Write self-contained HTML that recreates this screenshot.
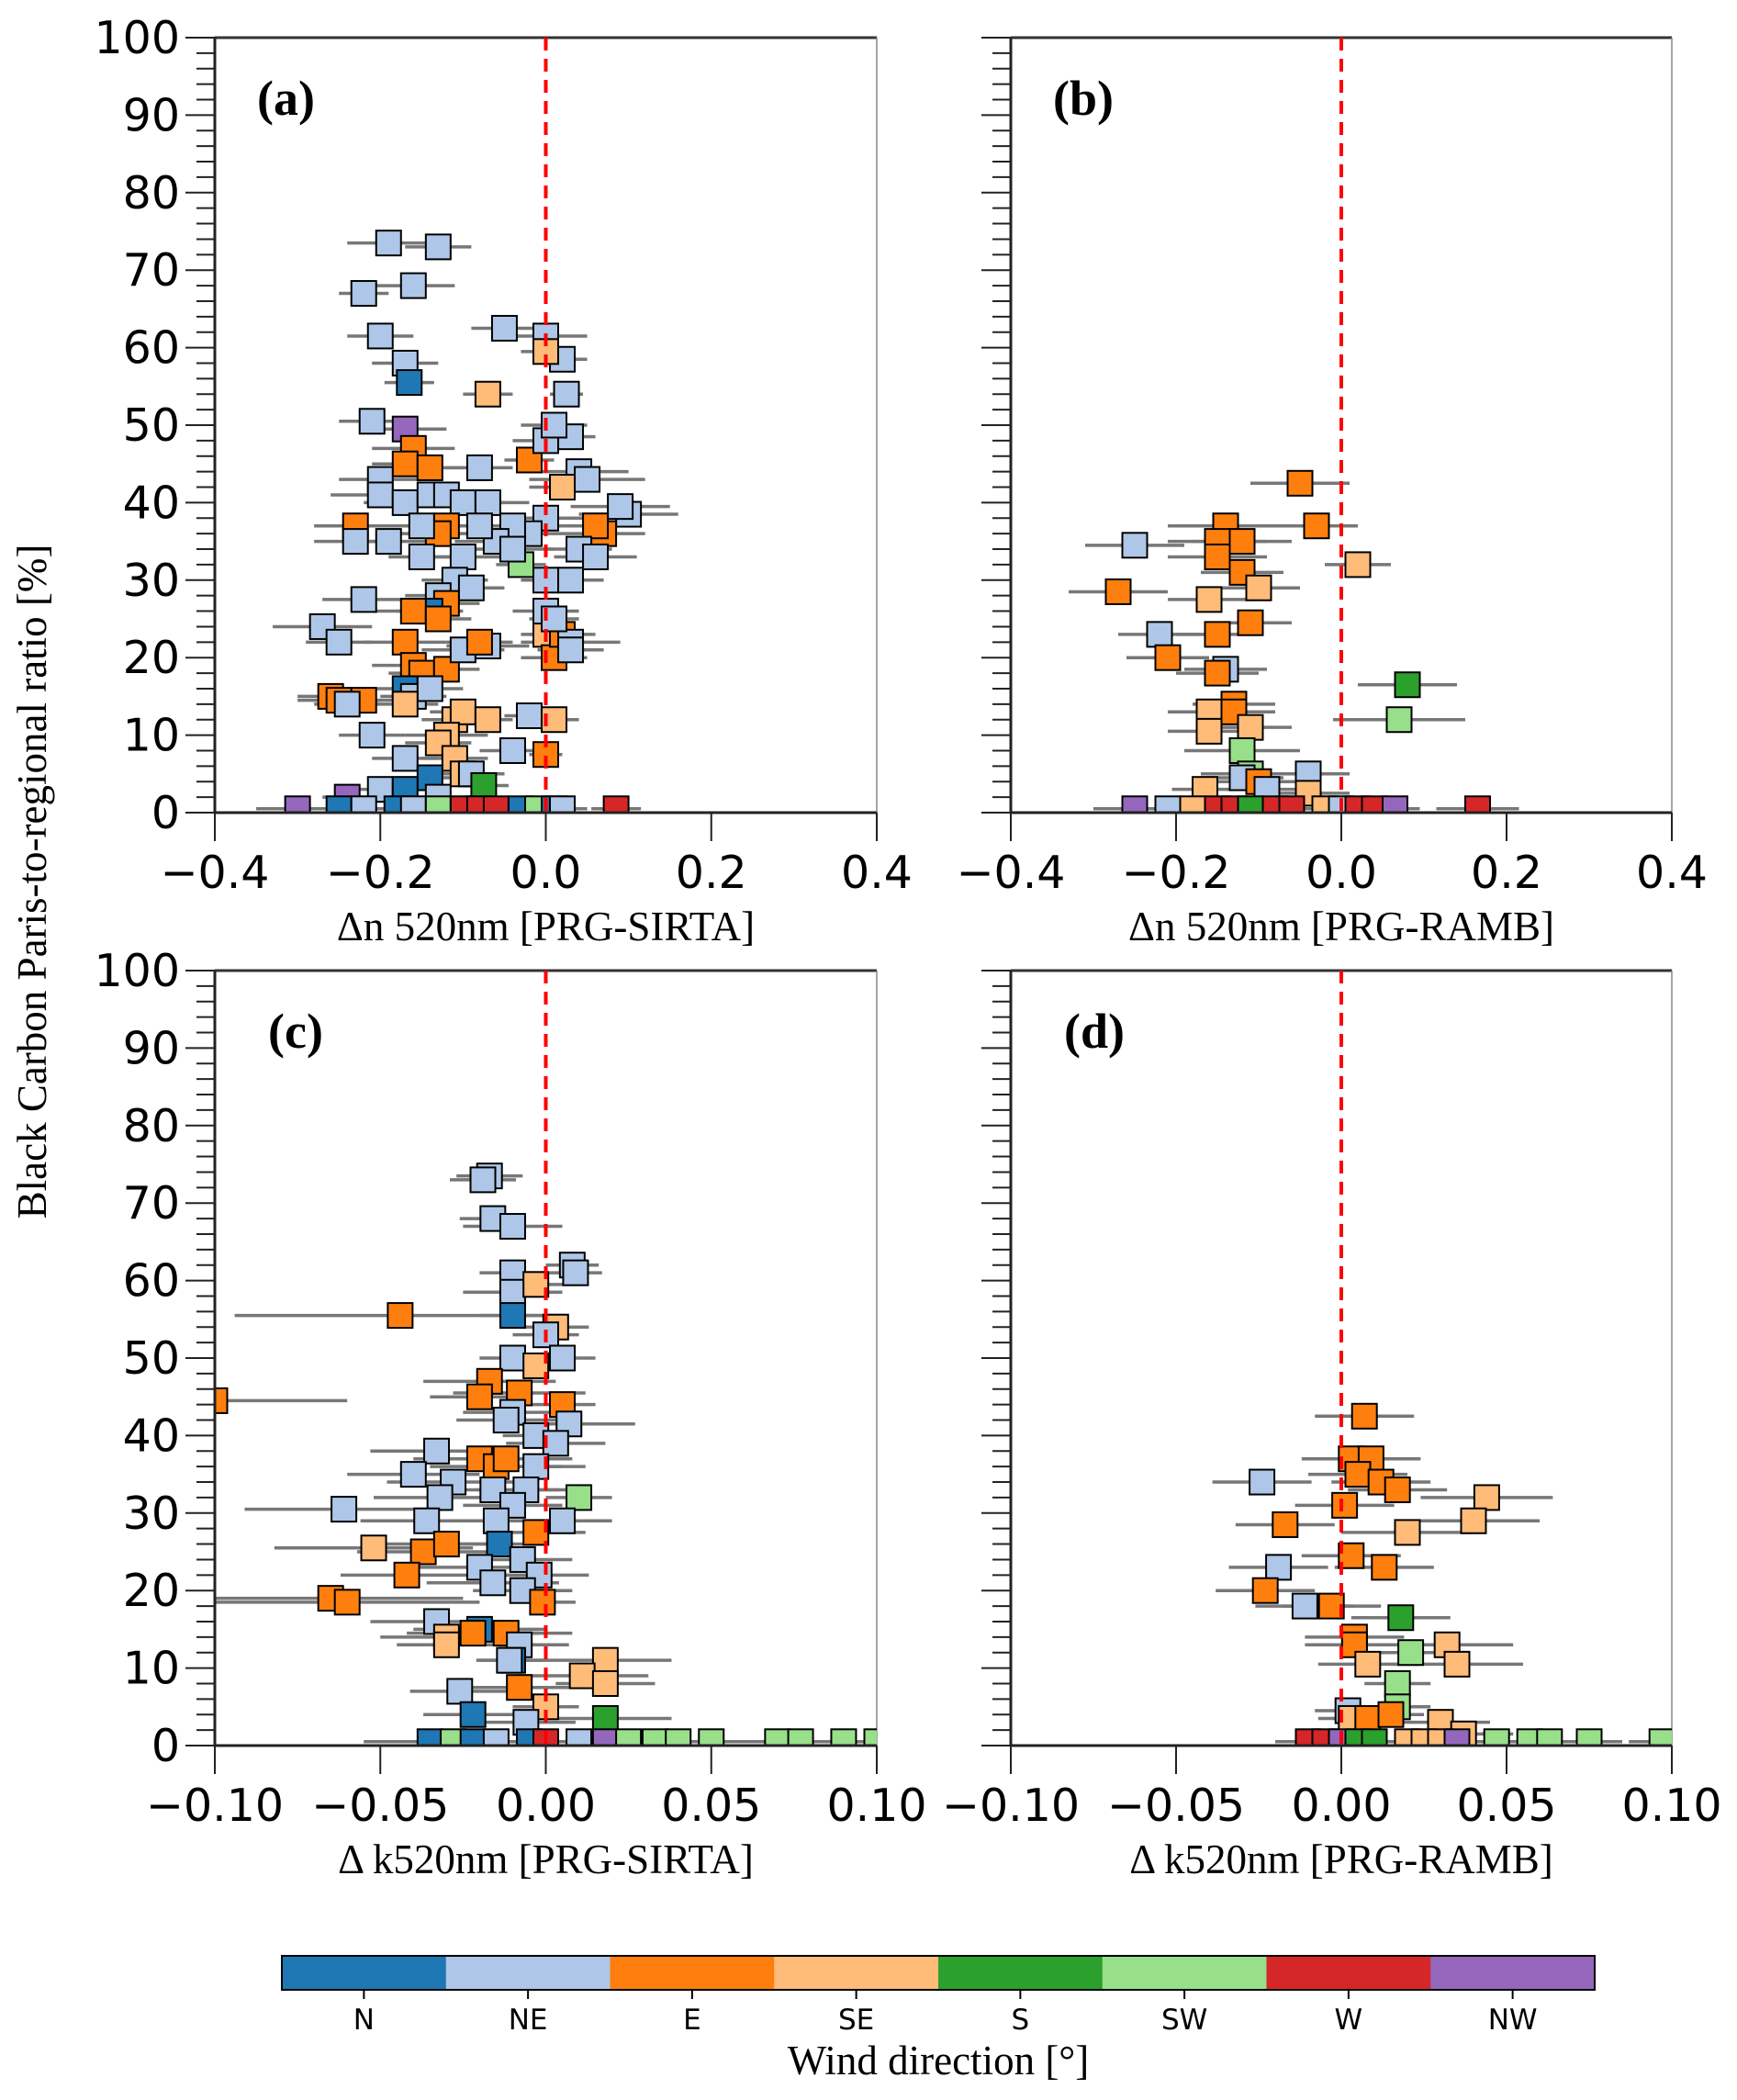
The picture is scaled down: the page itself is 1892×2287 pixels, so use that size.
<!DOCTYPE html>
<html><head><meta charset="utf-8"><style>
body{margin:0;background:#fff}
svg{display:block}
</style></head><body>
<svg id="fig" width="1892" height="2287" viewBox="0 0 1892 2287" xmlns="http://www.w3.org/2000/svg"></svg>
<script>
const dirNames=["N","NE","E","SE","S","SW","W","NW"];
const dirColors=["#1f77b4","#aec7e8","#ff7f0e","#ffbb78","#2ca02c","#98df8a","#d62728","#9467bd"];
const yTicks=[0,10,20,30,40,50,60,70,80,90,100];
const xTicksN=[-0.4,-0.2,0.0,0.2,0.4];
const xTickLabelsN=["\u22120.4","\u22120.2","0.0","0.2","0.4"];
const xTicksK=[-0.1,-0.05,0,0.05,0.1];
const xTickLabelsK=["\u22120.10","\u22120.05","0.00","0.05","0.10"];
// panel a: [x, y, xerr, dirIndex]
const pointsA=[[-0.19,73.5,0.05,1],[-0.13,73,0.04,1],[-0.22,67,0.03,1],[-0.16,68,0.05,1],[-0.2,61.5,0.04,1],[-0.17,58,0.04,1],[-0.165,55.5,0.03,0],[-0.05,62.5,0.04,1],[0.0,61.5,0.05,1],[0.02,58.5,0.03,1],[0.0,59.5,0.03,3],[-0.07,54,0.03,3],[0.025,54,0.02,1],[-0.21,50.5,0.04,1],[-0.17,49.5,0.05,7],[-0.16,47,0.05,2],[-0.17,45,0.04,2],[-0.14,44.5,0.04,2],[-0.2,43,0.05,1],[-0.2,41,0.06,1],[-0.17,40,0.05,1],[-0.14,41,0.05,1],[-0.12,41,0.05,1],[-0.1,40,0.05,1],[-0.08,44.5,0.04,1],[-0.07,40,0.05,1],[-0.02,45.5,0.03,2],[0.0,48,0.04,1],[0.03,48.5,0.03,1],[0.01,50,0.04,1],[0.04,44,0.06,1],[0.02,42,0.04,3],[0.05,43,0.07,1],[0.1,38.5,0.06,1],[0.09,39.5,0.06,1],[0.07,36,0.05,2],[0.06,37,0.05,2],[0.04,34,0.04,1],[0.0,38,0.05,1],[-0.02,36,0.04,1],[-0.04,37,0.05,1],[-0.06,35,0.05,1],[-0.08,37,0.05,1],[-0.1,33,0.05,1],[-0.12,37,0.05,2],[-0.13,36,0.05,2],[-0.15,37,0.05,1],[-0.19,35,0.05,1],[-0.23,37,0.05,2],[-0.23,35,0.05,1],[-0.15,33,0.04,1],[-0.11,30,0.04,1],[-0.09,29,0.04,1],[-0.03,32,0.03,5],[0.0,30,0.03,1],[0.03,30,0.04,1],[0.06,33,0.05,1],[-0.04,34,0.05,1],[-0.13,28,0.04,1],[-0.12,27,0.04,2],[-0.14,26,0.04,0],[-0.16,26,0.05,2],[-0.13,25,0.04,2],[-0.22,27.5,0.05,1],[-0.27,24,0.06,1],[-0.25,22,0.04,1],[-0.17,22,0.05,2],[-0.16,19,0.05,2],[-0.15,18,0.04,2],[-0.12,18.5,0.04,2],[-0.1,21,0.05,1],[-0.07,21.5,0.05,1],[-0.08,22,0.04,2],[0.0,23,0.03,3],[0.01,20,0.04,2],[0.02,23,0.04,2],[0.03,22,0.06,1],[0.03,21,0.04,1],[0.0,26,0.04,1],[0.01,25,0.03,1],[-0.26,15,0.04,2],[-0.25,14.5,0.05,2],[-0.22,14.5,0.04,2],[-0.24,14,0.04,1],[-0.17,16,0.04,0],[-0.16,15,0.04,1],[-0.14,16,0.04,1],[-0.17,14,0.04,3],[-0.21,10,0.04,1],[-0.11,12,0.04,3],[-0.1,13,0.04,3],[-0.07,12,0.03,3],[-0.02,12.5,0.03,1],[0.01,12,0.03,3],[-0.12,10,0.05,3],[-0.13,9,0.04,3],[-0.17,7,0.04,1],[-0.04,8,0.04,1],[0.0,7.5,0.02,2],[-0.11,7,0.04,3],[-0.1,5,0.05,3],[-0.14,4.5,0.04,0],[-0.09,5,0.04,1],[-0.2,3,0.05,1],[-0.17,3,0.04,0],[-0.13,2,0.04,1],[-0.075,3.5,0.03,4],[-0.24,2,0.03,7],[-0.3,0.5,0.05,7],[-0.25,0.5,0.04,0],[-0.22,0.5,0.04,1],[-0.18,0.5,0.04,0],[-0.16,0.5,0.05,1],[-0.13,0.5,0.04,5],[-0.1,0.5,0.04,6],[-0.08,0.5,0.04,6],[-0.06,0.5,0.04,6],[-0.03,0.5,0.04,0],[-0.01,0.5,0.04,5],[0.01,0.5,0.03,0],[0.02,0.5,0.03,1],[0.085,0.5,0.03,6]];
const pointsB=[[-0.05,42.5,0.06,2],[-0.03,37,0.05,2],[-0.14,37,0.07,2],[-0.15,35,0.06,2],[-0.12,35,0.06,2],[-0.15,33,0.06,2],[-0.12,31,0.05,2],[-0.25,34.5,0.06,1],[0.02,32,0.04,3],[-0.27,28.5,0.06,2],[-0.16,27.5,0.05,3],[-0.1,29,0.05,3],[-0.22,23,0.05,1],[-0.15,23,0.05,2],[-0.11,24.5,0.05,2],[-0.21,20,0.05,2],[-0.14,18.5,0.05,1],[-0.15,18,0.05,2],[0.08,16.5,0.06,4],[0.07,12,0.08,5],[-0.13,14,0.05,2],[-0.13,13,0.05,2],[-0.16,13,0.05,3],[-0.16,10.5,0.05,3],[-0.11,11,0.05,3],[-0.12,8,0.07,5],[-0.11,5,0.06,5],[-0.12,4.5,0.05,1],[-0.1,4,0.06,2],[-0.04,5,0.05,1],[-0.09,3,0.05,1],[-0.165,3,0.04,3],[-0.04,2.5,0.05,3],[-0.25,0.5,0.05,7],[-0.21,0.5,0.05,1],[-0.18,0.5,0.04,3],[-0.15,0.5,0.05,6],[-0.13,0.5,0.05,6],[-0.11,0.5,0.05,4],[-0.08,0.5,0.05,6],[-0.06,0.5,0.05,6],[-0.02,0.5,0.05,3],[0.0,0.5,0.05,1],[0.02,0.5,0.05,6],[0.04,0.5,0.04,6],[0.065,0.5,0.03,7],[0.165,0.5,0.05,6]];
const pointsC=[[-0.017,73.5,0.01,1],[-0.019,73,0.01,1],[-0.016,68,0.01,1],[-0.01,67,0.015,1],[0.008,62,0.008,1],[0.009,61,0.008,1],[-0.01,61,0.01,1],[-0.01,58.5,0.015,1],[-0.003,59.5,0.01,3],[-0.01,55.5,0.01,0],[-0.044,55.5,0.05,2],[0.003,54,0.01,3],[0.0,53,0.01,1],[-0.01,50,0.01,1],[0.005,50,0.01,1],[-0.003,49,0.01,3],[-0.017,47,0.02,2],[-0.008,45.5,0.02,2],[-0.02,45,0.015,2],[0.005,44,0.01,2],[-0.1,44.5,0.04,2],[-0.01,43,0.015,1],[-0.012,42,0.015,1],[0.007,41.5,0.02,1],[-0.003,40,0.01,1],[0.003,39,0.015,1],[-0.033,38,0.02,1],[-0.02,37,0.02,2],[-0.015,36,0.02,2],[-0.012,37,0.02,2],[-0.003,36,0.015,1],[-0.04,35,0.02,1],[-0.028,34,0.02,1],[-0.016,33,0.02,1],[-0.006,33,0.015,1],[-0.032,32,0.02,1],[0.01,32,0.01,5],[-0.01,31,0.015,1],[-0.061,30.5,0.03,1],[-0.036,29,0.02,1],[-0.015,29,0.015,1],[0.005,29,0.015,1],[-0.003,27.5,0.015,2],[-0.014,26,0.015,0],[-0.052,25.5,0.03,3],[-0.037,25,0.02,2],[-0.03,26,0.02,2],[-0.02,23,0.02,1],[-0.007,24,0.015,1],[-0.016,21,0.02,1],[-0.042,22,0.02,2],[-0.002,22,0.015,1],[-0.065,19,0.04,2],[-0.06,18.5,0.04,2],[-0.007,20,0.015,1],[-0.001,18.5,0.01,2],[-0.033,16,0.02,1],[-0.02,15,0.02,0],[-0.022,14.5,0.02,2],[-0.012,14.5,0.02,2],[-0.03,14,0.02,3],[-0.03,13,0.015,3],[-0.008,13,0.015,1],[-0.01,11,0.01,0],[-0.011,11,0.01,1],[0.018,11,0.02,3],[0.011,9,0.02,3],[0.018,8,0.015,3],[-0.026,7,0.015,1],[-0.008,7.5,0.015,2],[0.0,5,0.01,3],[-0.022,4,0.015,0],[-0.006,3,0.015,1],[0.018,3.5,0.02,4],[-0.035,0.5,0.02,0],[-0.028,0.5,0.02,5],[-0.022,0.5,0.02,0],[-0.015,0.5,0.02,1],[-0.005,0.5,0.02,0],[0.0,0.5,0.02,6],[0.01,0.5,0.02,1],[0.018,0.5,0.02,7],[0.025,0.5,0.02,5],[0.033,0.5,0.02,5],[0.04,0.5,0.02,5],[0.05,0.5,0.02,5],[0.07,0.5,0.02,5],[0.077,0.5,0.02,5],[0.09,0.5,0.02,5],[0.1,0.5,0.02,5]];
const pointsD=[[0.007,42.5,0.015,2],[0.003,37,0.015,2],[0.009,37,0.015,2],[0.005,35,0.015,2],[0.012,34,0.015,2],[0.017,33,0.015,2],[-0.024,34,0.015,1],[0.044,32,0.02,3],[0.001,31,0.015,2],[0.04,29,0.02,3],[-0.017,28.5,0.015,2],[0.02,27.5,0.02,3],[0.003,24.5,0.015,2],[0.013,23,0.015,2],[-0.019,23,0.015,1],[-0.023,20,0.015,2],[-0.011,18,0.015,1],[-0.003,18,0.015,2],[0.018,16.5,0.015,4],[0.004,14,0.015,2],[0.004,13,0.015,2],[0.032,13,0.02,3],[0.021,12,0.015,5],[0.035,10.5,0.02,3],[0.008,10.5,0.015,3],[0.017,8,0.01,5],[0.017,5,0.01,5],[0.002,4.5,0.01,1],[0.003,3.5,0.01,3],[0.008,3.5,0.01,2],[0.015,4,0.01,2],[0.03,3,0.015,3],[0.037,1.5,0.015,3],[-0.01,0.5,0.01,6],[-0.005,0.5,0.01,6],[0.0,0.5,0.01,7],[0.005,0.5,0.01,4],[0.01,0.5,0.01,4],[0.02,0.5,0.01,3],[0.025,0.5,0.01,3],[0.03,0.5,0.01,3],[0.035,0.5,0.01,7],[0.047,0.5,0.01,5],[0.057,0.5,0.01,5],[0.063,0.5,0.01,5],[0.075,0.5,0.01,5],[0.097,0.5,0.01,5]];

const NS="http://www.w3.org/2000/svg";
const svg=document.getElementById('fig');
function mk(tag,attrs,parent){const e=document.createElementNS(NS,tag);for(const k in attrs)e.setAttribute(k,attrs[k]);(parent||svg).appendChild(e);return e;}
const panels=[
 {id:'a',L:234,R:955,T:41,B:885,xmin:-0.4,xmax:0.4,ticks:xTicksN,labels:xTickLabelsN,pts:pointsA,xl:"\u0394n 520nm [PRG-SIRTA]",showY:true},
 {id:'b',L:1101,R:1821,T:41,B:885,xmin:-0.4,xmax:0.4,ticks:xTicksN,labels:xTickLabelsN,pts:pointsB,xl:"\u0394n 520nm [PRG-RAMB]",showY:false},
 {id:'c',L:234,R:955,T:1057,B:1901,xmin:-0.1,xmax:0.1,ticks:xTicksK,labels:xTickLabelsK,pts:pointsC,xl:"\u0394 k520nm [PRG-SIRTA]",showY:true},
 {id:'d',L:1101,R:1821,T:1057,B:1901,xmin:-0.1,xmax:0.1,ticks:xTicksK,labels:xTickLabelsK,pts:pointsD,xl:"\u0394 k520nm [PRG-RAMB]",showY:false}];
const tickFont='"DejaVu Sans","Liberation Sans",sans-serif';
const serif='"Liberation Serif",serif';
const MS=27;
panels.forEach(p=>{
  const g=mk('g',{});
  
  
  const xs=v=>p.L+(v-p.xmin)/(p.xmax-p.xmin)*(p.R-p.L);
  const ys=v=>p.B-v/100*(p.B-p.T);
  const cid='clip'+p.id;
  const cp=mk('clipPath',{id:cid},g);mk('rect',{x:p.L,y:p.T,width:p.R-p.L,height:p.B-p.T},cp);
  const top=mk('line',{x1:p.L,y1:p.T,x2:p.R,y2:p.T,stroke:'#333',"stroke-width":3},g);
  
  mk('line',{x1:p.R,y1:p.T,x2:p.R,y2:p.B,stroke:'#888',"stroke-width":1.5},g);
  for(let v=0;v<=100;v+=2){
    const major=v%10===0;
    const t=mk('line',{x1:p.L-(major?32:20),y1:ys(v),x2:p.L,y2:ys(v),stroke:'#222',"stroke-width":2},g);
    
  }
  if(p.showY){
    yTicks.forEach(v=>{
      const t=mk('text',{x:p.L-38,y:ys(v)+17,"text-anchor":"end","font-family":tickFont,"font-size":49,fill:'#000'},g);
      t.textContent=v;
      
    });
  }
  p.ticks.forEach((v,i)=>{
    const t=mk('line',{x1:xs(v),y1:p.B,x2:xs(v),y2:p.B+31,stroke:'#222',"stroke-width":2},g);
    
    const tl=mk('text',{x:xs(v),y:p.B+82,"text-anchor":"middle","font-family":tickFont,"font-size":49,fill:'#000'},g);
    tl.textContent=p.labels[i];
    
  });
  const xl=mk('text',{x:(p.L+p.R)/2,y:p.B+139,"text-anchor":"middle","font-family":serif,"font-size":45,fill:'#000'},g);
  xl.textContent=p.xl;
  
  const pl=mk('text',{x:p.L+(p.id==='c'||p.id==='d'?58:46),y:p.T+84,"font-family":serif,"font-size":54,"font-weight":"bold",fill:'#000'},g);
  pl.textContent='('+p.id+')';
  
  const dg=mk('g',{"clip-path":'url(#'+cid+')'},g);
  p.pts.forEach(d=>{
    const e=mk('line',{x1:xs(d[0]-d[2]),y1:ys(d[1]),x2:xs(d[0]+d[2]),y2:ys(d[1]),stroke:'#777',"stroke-width":3.5},dg);
    
  });
  p.pts.forEach(d=>{
    const s=mk('rect',{x:xs(d[0])-MS/2,y:ys(d[1])-MS/2,width:MS,height:MS,fill:dirColors[d[3]],stroke:'#000',"stroke-width":2},dg);
    
  });
  const zl=mk('line',{x1:xs(0),y1:p.T,x2:xs(0),y2:p.B,stroke:'#f00',"stroke-width":4,"stroke-dasharray":"14,9"},g);
  
  mk('line',{x1:p.L,y1:p.T,x2:p.L,y2:p.B,stroke:'#222',"stroke-width":3},g);
  mk('line',{x1:p.L,y1:p.B,x2:p.R,y2:p.B,stroke:'#222',"stroke-width":3},g);
});
const yt=mk('text',{x:0,y:0,transform:'translate(50,960) rotate(-90)',"text-anchor":"middle","font-family":serif,"font-size":45,fill:'#000'});
yt.textContent='Black Carbon Paris-to-regional ratio [%]';

const cb=mk('g',{});

const cbL=307,cbR=1737,cbT=2130,cbH=37,w=(cbR-cbL)/8;
dirNames.forEach((n,i)=>{
  const r=mk('rect',{x:cbL+i*w,y:cbT,width:w+0.5,height:cbH,fill:dirColors[i]},cb);
  
  mk('line',{x1:cbL+(i+0.5)*w,y1:cbT+cbH,x2:cbL+(i+0.5)*w,y2:cbT+cbH+10,stroke:'#000',"stroke-width":2},cb);
  const t=mk('text',{x:cbL+(i+0.5)*w,y:2210,"text-anchor":"middle","font-family":tickFont,"font-size":31,fill:'#000'},cb);
  t.textContent=n;
  
});
mk('rect',{x:cbL,y:cbT,width:cbR-cbL,height:cbH,fill:'none',stroke:'#000',"stroke-width":2},cb);
const ct=mk('text',{x:(cbL+cbR)/2,y:2259,"text-anchor":"middle","font-family":serif,"font-size":45,fill:'#000'},cb);
ct.textContent='Wind direction [\u00b0]';

</script>
</body></html>
